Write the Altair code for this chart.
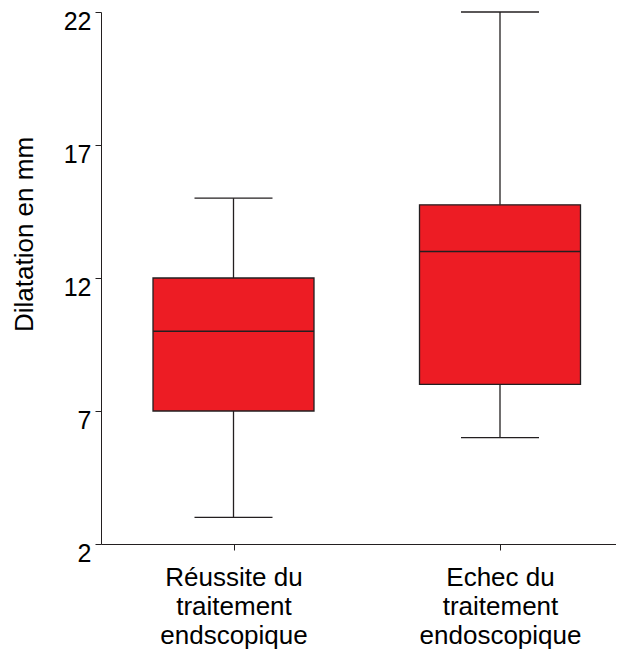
import altair as alt
import pandas as pd

groups = ["Réussite du traitement endscopique", "Echec du traitement endoscopique"]
label_lines = [["Réussite du", "traitement", "endscopique"], ["Echec du", "traitement", "endoscopique"]]
positions = [1, 2]
lower = [3, 6]
q1 = [7, 8]
median = [10, 13]
q3 = [12, 14.75]
upper = [15, 22]
y_ticks = [2, 7, 12, 17, 22]
Y_TITLE = "Dilatation en mm"

df = pd.DataFrame({"group": groups, "pos": positions, "lower": lower, "q1": q1,
                   "median": median, "q3": q3, "upper": upper})

W, H = 515, 532
STEP = 266.5
x0 = 1 - 132.5 / STEP
x1 = x0 + W / STEP
BOX_HALF = 80.5 / STEP
CAP_HALF = 39 / STEP

FONT = "Liberation Sans"
STROKE = "#231F20"
RED = "#ED1C24"

lab_expr = "datum.value == 1 ? " + str(label_lines[0]) + " : " + str(label_lines[1])

xscale = alt.Scale(domain=[x0, x1], nice=False, zero=False)
yscale = alt.Scale(domain=[2, 22], nice=False, zero=False)

xaxis = alt.Axis(
    values=positions, labelExpr=lab_expr, title=None, grid=False,
    tickSize=6, tickColor=STROKE, domainColor=STROKE, labelFont=FONT, labelFontSize=26,
    labelColor="black", labelPadding=14, labelLineHeight=29, labelBaseline="top")
yaxis = alt.Axis(values=y_ticks, title=Y_TITLE, grid=False, tickSize=6,
                 tickColor=STROKE, domainColor=STROKE, labelFont=FONT, labelFontSize=25,
                 labelColor="black", labelPadding=4, labelBaseline="top", labelOffset=-3,
                 titleFont=FONT, titleFontSize=26,
                 titleFontWeight="normal", titleColor="black", titleX=-77, titleY=222,
                 titleAlign="center", titleBaseline="middle", titleAngle=270)

base = alt.Chart(df).transform_calculate(
    bl="datum.pos - %f" % BOX_HALF, br="datum.pos + %f" % BOX_HALF,
    cl="datum.pos - %f" % CAP_HALF, cr="datum.pos + %f" % CAP_HALF)

def xq(field):
    return alt.X(field, scale=xscale, axis=xaxis)

def yq(field):
    return alt.Y(field, scale=yscale, axis=yaxis)

whisk_up = base.mark_rule(color=STROKE, strokeWidth=1.3).encode(
    x=xq("pos:Q"), y=yq("q3:Q"), y2="upper:Q")
whisk_lo = base.mark_rule(color=STROKE, strokeWidth=1.3).encode(
    x=xq("pos:Q"), y=yq("lower:Q"), y2="q1:Q")
cap_up = base.mark_rule(color=STROKE, strokeWidth=1.3).encode(
    x=xq("cl:Q"), x2="cr:Q", y=yq("upper:Q"))
cap_lo = base.mark_rule(color=STROKE, strokeWidth=1.3).encode(
    x=xq("cl:Q"), x2="cr:Q", y=yq("lower:Q"))
box = base.mark_rect(color=RED, stroke=STROKE, strokeWidth=1.3).encode(
    x=xq("bl:Q"), x2="br:Q", y=yq("q1:Q"), y2="q3:Q")
med = base.mark_rule(color=STROKE, strokeWidth=1.5).encode(
    x=xq("bl:Q"), x2="br:Q", y=yq("median:Q"))

chart = alt.layer(whisk_up, whisk_lo, cap_up, cap_lo, box, med).properties(
    width=W, height=H,
    autosize=alt.AutoSizeParams(type="none"),
    padding={"left": 93, "top": 4, "right": 0, "bottom": 105},
).configure(background="white").configure_view(stroke=None).configure_axis(grid=False)

chart.save("out.html", embed_options={"renderer": "svg", "actions": False})
